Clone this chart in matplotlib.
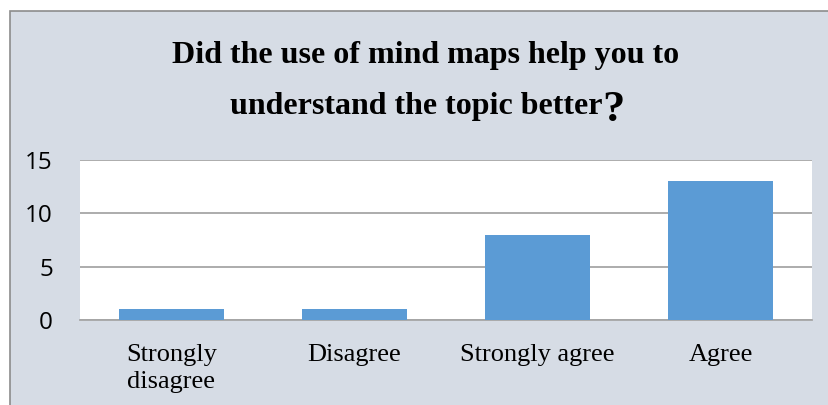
import matplotlib.pyplot as plt
from matplotlib.patches import Rectangle

# ---------------- Data ----------------
categories = ["Strongly\ndisagree", "Disagree", "Strongly agree", "Agree"]
counts = [1, 1, 8, 13]
yticks = [0, 5, 10, 15]

title_line1 = "Did the use of mind maps help you to"
title_line2 = "understand the topic better"

# ---------------- Style ----------------
bg = "#D6DCE5"
bar_color = "#5B9BD5"
grid_color = "#A6A6A6"
serif = ["Liberation Serif", "DejaVu Serif"]

fig = plt.figure(figsize=(8.29, 4.05), dpi=100, facecolor="white")

# outer chart frame (only top and left edges visible in the crop)
frame = Rectangle((10 / 829, -0.05), 1.2, 1 - 11 / 405 + 0.05,
                  transform=fig.transFigure, facecolor=bg,
                  edgecolor="#8C8C8C", linewidth=1.2, zorder=0)
fig.add_artist(frame)

ax = fig.add_axes([80 / 829, 1 - 320 / 405, (812 - 80) / 829, 160 / 405])
ax.set_facecolor("white")

x = range(len(categories))
ax.bar(x, counts, width=0.574, color=bar_color, zorder=3)

ax.set_xlim(-0.5, len(categories) - 0.5)
ax.set_ylim(0, 15)
ax.set_yticks(yticks)
ax.yaxis.grid(True, color=grid_color, linewidth=1.3)
ax.set_axisbelow(True)
for s in ["top", "right", "left"]:
    ax.spines[s].set_visible(False)
ax.spines["bottom"].set_color(grid_color)
ax.spines["bottom"].set_linewidth(1.3)
ax.tick_params(length=0)
ax.tick_params(axis="y", pad=19.5, labelsize=17.5)
ax.tick_params(axis="x", pad=17)
for lbl in ax.get_yticklabels():
    lbl.set_fontfamily("Open Sans")
ax.set_xticks(list(x))
ax.set_xticklabels(categories, fontsize=19, fontfamily=serif, va="top")
for lbl in ax.get_xticklabels():
    lbl.set_linespacing(1.3)

# ---------------- Title ----------------
fig.text(426 / 829, 1 - 63 / 405, title_line1, ha="center", va="baseline",
         fontsize=23, fontweight="bold", fontfamily=serif)
t2 = fig.text(230 / 829, 1 - 114 / 405, title_line2, ha="left", va="baseline",
              fontsize=23, fontweight="bold", fontfamily=serif)
ax.annotate("?", xy=(1, 0), xycoords=t2, xytext=(0, 0), textcoords="offset points",
            ha="left", va="baseline", fontsize=32, fontweight="bold",
            fontfamily=serif)

fig.savefig("out.png", dpi=100, facecolor=fig.get_facecolor())
